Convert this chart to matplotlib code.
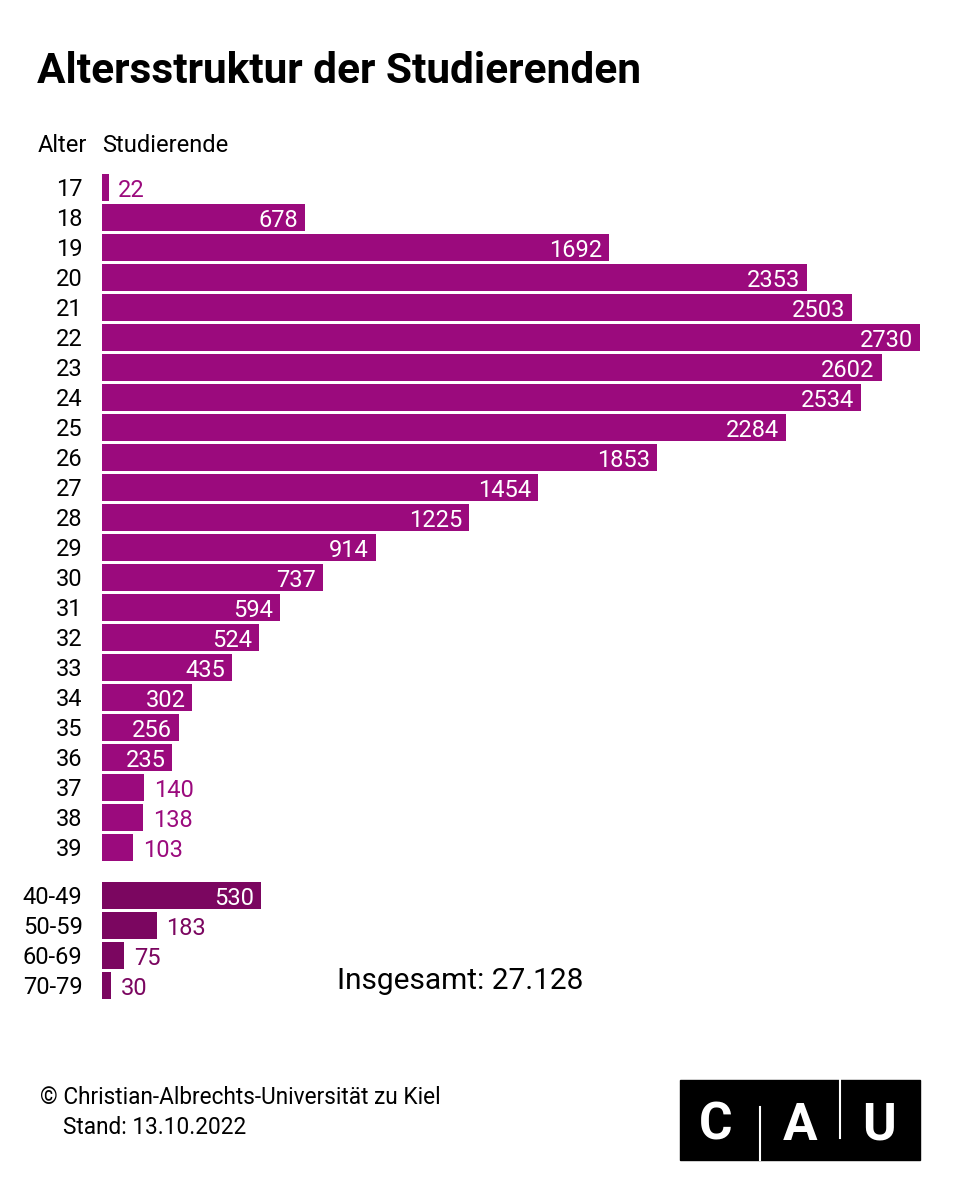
import matplotlib.pyplot as plt
from matplotlib.patches import Rectangle

# Altersstruktur der Studierenden (CAU Kiel, Stand 13.10.2022)
ages = [str(a) for a in range(17, 40)]
counts = [22, 678, 1692, 2353, 2503, 2730, 2602, 2534, 2284, 1853, 1454, 1225,
          914, 737, 594, 524, 435, 302, 256, 235, 140, 138, 103]
groups = ["40-49", "50-59", "60-69", "70-79"]
group_counts = [530, 183, 75, 30]
total = "27.128"

PURPLE = "#9b0a7d"
DARK = "#7b0660"
FONT = "Roboto"

W, H = 960, 1200


def fx(x):
    return x / W


def fy(y):
    return 1 - y / H


fig = plt.figure(figsize=(9.6, 12), dpi=100)

# axes placed so that row spacing is 30 px, bars from x=102 to 920
ax_left, ax_right = 102, 920
row0 = 187
ylo, yhi = -0.5, 27.1
ax_top = row0 + ylo * 30
ax_bot = row0 + yhi * 30
ax = fig.add_axes([fx(ax_left), fy(ax_bot), fx(ax_right - ax_left), (ax_bot - ax_top) / H])

pos = list(range(len(ages))) + [len(ages) + 0.6 + i for i in range(len(groups))]
labels = ages + groups
vals = counts + group_counts
cols = [PURPLE] * len(ages) + [DARK] * len(groups)

ax.barh(pos, vals, height=0.9, color=cols)
ax.set_xlim(0, 2730)
ax.set_ylim(yhi, ylo)
for s in ax.spines.values():
    s.set_visible(False)
ax.set_xticks([])
ax.set_yticks(pos)
ax.set_yticklabels(labels, fontfamily=FONT, fontsize=17)
ax.tick_params(axis="y", length=0, pad=14)
for t in ax.get_yticklabels():
    t.set_verticalalignment("center_baseline")

for p, v, c in zip(pos, vals, cols):
    if v >= 200:
        ax.annotate(str(v), (v, p), xytext=(-5, -1), textcoords="offset points",
                    ha="right", va="center_baseline", color="white", fontsize=17, fontfamily=FONT)
    else:
        ax.annotate(str(v), (v, p), xytext=(7, -1), textcoords="offset points",
                    ha="left", va="center_baseline", color=c, fontsize=17, fontfamily=FONT)

fig.text(fx(37), fy(67), "Altersstruktur der Studierenden", fontsize=30.5, fontweight="bold",
         fontfamily=FONT, ha="left", va="center_baseline")
fig.text(fx(87), fy(143), "Alter", fontsize=17, fontfamily=FONT, ha="right", va="center_baseline")
fig.text(fx(102), fy(143), "Studierende", fontsize=17, fontfamily=FONT, ha="left", va="center_baseline")
fig.text(fx(337), fy(978), "Insgesamt: " + total, fontsize=21.5, fontfamily=FONT,
         ha="left", va="center_baseline")

fig.text(fx(40), fy(1095), "© Christian-Albrechts-Universität zu Kiel", fontsize=16.3,
         fontfamily=FONT, ha="left", va="center_baseline")
fig.text(fx(63), fy(1125), "Stand: 13.10.2022", fontsize=16.3, fontfamily=FONT,
         ha="left", va="center_baseline")

# CAU logo
fig.patches.append(Rectangle((fx(680), fy(1160)), fx(240), 80 / H, transform=fig.transFigure,
                             color="black"))
fig.add_artist(plt.Line2D([fx(760), fx(760)], [fy(1107), fy(1160)], transform=fig.transFigure,
                          color="white", lw=1.5))
fig.add_artist(plt.Line2D([fx(840), fx(840)], [fy(1080), fy(1138)], transform=fig.transFigure,
                          color="white", lw=1.5))
for letter, x in zip("CAU", [716, 800, 879]):
    fig.text(fx(x), fy(1120), letter, color="white", fontsize=37, fontweight="bold",
             fontfamily=FONT, ha="center", va="center_baseline")

fig.savefig("out.png", dpi=100, facecolor="white")
